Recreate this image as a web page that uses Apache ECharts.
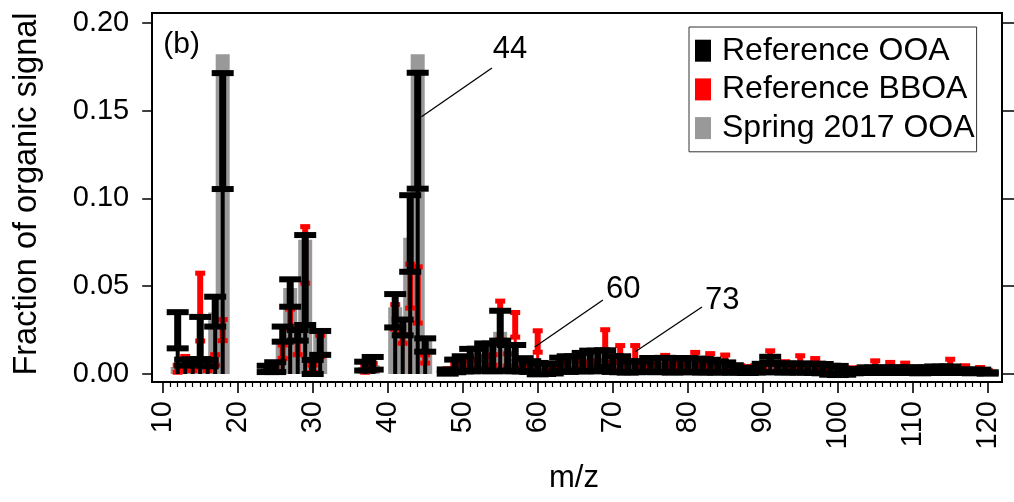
<!DOCTYPE html>
<html>
<head>
<meta charset="utf-8">
<script src="https://cdn.jsdelivr.net/npm/echarts@6/dist/echarts.min.js"></script>
<style>
  html, body { margin: 0; padding: 0; background: #fff; }
  #chart { width: 1014px; height: 502px; }
</style>
</head>
<body>
<div id="chart"></div>
<script>
// m/z channels shown in the spectrum
const mz = [
  12, 13, 14, 15, 16, 17, 18, 24, 25, 26,
  27, 28, 29, 30, 31, 37, 38, 41, 42, 43,
  44, 45, 48, 49, 50, 51, 52, 53, 54, 55,
  56, 57, 58, 59, 60, 61, 62, 63, 64, 65,
  66, 67, 68, 69, 70, 71, 72, 73, 74, 75,
  76, 77, 78, 79, 80, 81, 82, 83, 84, 85,
  86, 87, 88, 89, 90, 91, 92, 93, 94, 95,
  96, 97, 98, 99, 100, 101, 102, 103, 104, 105,
  106, 107, 108, 109, 110, 111, 112, 113, 114, 115,
  116, 117, 118, 119, 120
];

// Reference OOA: mean fraction and standard deviation
const ooaMean = [
  0.0249, 0.0065, 0.0068, 0.0205, 0.0062, 0.0355, 0.1383, 0.0029, 0.0039, 0.0227,
  0.0461, 0.0220, 0.0535, 0.0040, 0.0177, 0.0045, 0.0061, 0.0360, 0.0265, 0.0800,
  0.1385, 0.0165, 0.0014, 0.0046, 0.0058, 0.0079, 0.0082, 0.0097, 0.0094, 0.0275,
  0.00925, 0.0090, 0.00525, 0.00425, 0.00305, 0.0029, 0.00305, 0.0054, 0.00565, 0.0058,
  0.00675, 0.00755, 0.0074, 0.00875, 0.00565, 0.00555, 0.0040, 0.0041, 0.0042, 0.00515,
  0.0050, 0.0052, 0.00485, 0.00505, 0.0051, 0.0049, 0.00465, 0.00455, 0.0040, 0.0038,
  0.0029, 0.0021, 0.0020, 0.0022, 0.0034, 0.0081, 0.00345, 0.00335, 0.0035, 0.00335,
  0.0033, 0.00325, 0.00305, 0.00215, 0.0020, 0.0011, 0.00145, 0.00165, 0.0023, 0.00215,
  0.0023, 0.0021, 0.0023, 0.00215, 0.0023, 0.0020, 0.0022, 0.00255, 0.0024, 0.00255,
  0.00155, 0.0016, 0.0014, 0.00155, 0.0006
];
const ooaSd = [
  0.0103, 0.0017, 0.0015, 0.0120, 0.0018, 0.0085, 0.0330, 0.0018, 0.0028, 0.0043,
  0.0078, 0.0030, 0.0256, 0.0040, 0.0068, 0.0025, 0.0036, 0.0095, 0.0045, 0.0218,
  0.0330, 0.0038, 0.0012, 0.0036, 0.0043, 0.0064, 0.0062, 0.0077, 0.0079, 0.0085,
  0.00725, 0.0075, 0.00375, 0.00305, 0.00325, 0.0029, 0.00275, 0.0039, 0.00445, 0.0043,
  0.00525, 0.00575, 0.0059, 0.00475, 0.00445, 0.00455, 0.0032, 0.0031, 0.0030, 0.00395,
  0.0040, 0.0040, 0.00405, 0.00405, 0.0039, 0.0039, 0.00385, 0.00355, 0.0032, 0.0028,
  0.0021, 0.0013, 0.0014, 0.0014, 0.0024, 0.0017, 0.00245, 0.00255, 0.0025, 0.00255,
  0.0025, 0.00265, 0.00265, 0.00255, 0.0026, 0.0015, 0.00105, 0.00105, 0.0015, 0.00155,
  0.0015, 0.0015, 0.0015, 0.00155, 0.0015, 0.0016, 0.0016, 0.00175, 0.0018, 0.00175,
  0.00095, 0.0010, 0.0010, 0.00095, 0.0004
];

// Reference BBOA: mean fraction and standard deviation
const bboaMean = [
  0.0030, 0.0060, 0.0040, 0.0381, 0.0050, 0.0080, 0.0250, 0.0020, 0.0025, 0.0127,
  0.0315, 0.0150, 0.0678, 0.0030, 0.0160, 0.0030, 0.0040, 0.0325, 0.0200, 0.0500,
  0.0450, 0.0085, 0.0020, 0.0040, 0.0050, 0.0060, 0.0055, 0.0070, 0.0080, 0.0305,
  0.0080, 0.0280, 0.0060, 0.0040, 0.0185, 0.0035, 0.0035, 0.0045, 0.0050, 0.0055,
  0.0050, 0.0095, 0.0055, 0.0195, 0.0045, 0.0115, 0.0040, 0.0115, 0.0040, 0.0040,
  0.0040, 0.0075, 0.0040, 0.0045, 0.0040, 0.0088, 0.0040, 0.0083, 0.0040, 0.0077,
  0.0030, 0.0034, 0.0030, 0.0034, 0.0030, 0.0095, 0.0030, 0.0051, 0.0030, 0.0075,
  0.0030, 0.0064, 0.0025, 0.0025, 0.0025, 0.0025, 0.0025, 0.0027, 0.0025, 0.0055,
  0.0025, 0.0048, 0.0025, 0.0045, 0.0025, 0.0025, 0.0022, 0.0022, 0.0022, 0.0061,
  0.0020, 0.0034, 0.0018, 0.0027, 0.0015
];
const bboaSd = [
  0.0020, 0.0040, 0.0020, 0.0193, 0.0030, 0.0030, 0.0060, 0.0010, 0.0012, 0.0038,
  0.0055, 0.0040, 0.0161, 0.0020, 0.0060, 0.0020, 0.0020, 0.0070, 0.0025, 0.0125,
  0.0160, 0.0023, 0.0010, 0.0015, 0.0020, 0.0025, 0.0020, 0.0030, 0.0030, 0.0110,
  0.0035, 0.0070, 0.0025, 0.0015, 0.0061, 0.0015, 0.0015, 0.0020, 0.0020, 0.0025,
  0.0020, 0.0035, 0.0020, 0.0057, 0.0020, 0.0047, 0.0015, 0.0047, 0.0015, 0.0015,
  0.0015, 0.0031, 0.0015, 0.0015, 0.0015, 0.0035, 0.0015, 0.0033, 0.0015, 0.0031,
  0.0012, 0.0013, 0.0012, 0.0013, 0.0012, 0.0037, 0.0012, 0.0019, 0.0012, 0.0029,
  0.0012, 0.0024, 0.0010, 0.0010, 0.0010, 0.0010, 0.0010, 0.0009, 0.0010, 0.0020,
  0.0010, 0.0018, 0.0010, 0.0017, 0.0010, 0.0010, 0.0009, 0.0009, 0.0009, 0.0023,
  0.0008, 0.0013, 0.0007, 0.0010, 0.0006
];

// Spring 2017 OOA factor profile
const spring2017 = [
  0.0040, 0.0035, 0.0050, 0.0090, 0.0060, 0.0350, 0.1820, 0.0030, 0.0040, 0.0200,
  0.0490, 0.0200, 0.0765, 0.0050, 0.0250, 0.0040, 0.0050, 0.0380, 0.0280, 0.0775,
  0.1820, 0.0200, 0.0015, 0.0040, 0.0055, 0.0070, 0.0075, 0.0090, 0.0090, 0.0240,
  0.0085, 0.0080, 0.0050, 0.0040, 0.0030, 0.0030, 0.0030, 0.0050, 0.0055, 0.0055,
  0.0065, 0.0070, 0.0070, 0.0080, 0.0055, 0.0055, 0.0040, 0.0040, 0.0040, 0.0050,
  0.0050, 0.0050, 0.0045, 0.0050, 0.0050, 0.0048, 0.0045, 0.0045, 0.0040, 0.0038,
  0.0028, 0.0020, 0.0020, 0.0022, 0.0034, 0.0075, 0.0034, 0.0033, 0.0035, 0.0033,
  0.0033, 0.0032, 0.0030, 0.0021, 0.0020, 0.0011, 0.0014, 0.0016, 0.0023, 0.0021,
  0.0023, 0.0021, 0.0023, 0.0021, 0.0023, 0.0020, 0.0022, 0.0025, 0.0024, 0.0025,
  0.0015, 0.0016, 0.0014, 0.0015, 0.0006
];

// Axis ticks
const yTicks = [0, 0.05, 0.10, 0.15, 0.20];
const xTickStep = 10;

// Callouts: label text, point on the mark, line end, label anchor (data units)
const calloutText = ['44', '60', '73'];
const calloutTip = [[44.5, 0.1465], [59.6, 0.0154], [73.0, 0.0127]];
const calloutEnd = [[53.9, 0.1742], [68.7, 0.0421], [81.9, 0.0381]];
const calloutLabel = [[56.3, 0.1845], [71.4, 0.0484], [84.6, 0.0421]];

const FONT = '"Liberation Sans", Arial, Helvetica, sans-serif';

// bar from zero to the mean, plus a capped error bar of +/- one sd
function errorBarItem(capW, capH, lineW, barW, color) {
  return function (params, api) {
    const x = api.value(0), m = api.value(1), s = api.value(2);
    const base = api.coord([x, 0]);
    const mid = api.coord([x, m]);
    const hi = api.coord([x, m + s]);
    const lo = api.coord([x, m - s]);
    const cx = base[0];
    const style = { fill: color };
    return {
      type: 'group',
      children: [
        { type: 'rect', shape: { x: cx - barW / 2, y: Math.min(mid[1], base[1]), width: barW, height: Math.abs(base[1] - mid[1]) }, style },
        { type: 'rect', shape: { x: cx - lineW / 2, y: hi[1], width: lineW, height: lo[1] - hi[1] }, style },
        { type: 'rect', shape: { x: cx - capW / 2, y: hi[1] - capH / 2, width: capW, height: capH }, style },
        { type: 'rect', shape: { x: cx - capW / 2, y: lo[1] - capH / 2, width: capW, height: capH }, style }
      ]
    };
  };
}

function calloutItem(params, api) {
  const i = params.dataIndex;
  const a = api.coord(calloutTip[i]);
  const b = api.coord(calloutEnd[i]);
  const t = api.coord(calloutLabel[i]);
  return {
    type: 'group',
    children: [
      { type: 'line', shape: { x1: a[0], y1: a[1], x2: b[0], y2: b[1] }, style: { stroke: '#000', lineWidth: 1.3 } },
      { type: 'text', x: t[0], y: t[1], style: { text: calloutText[i], font: '31px ' + FONT, fill: '#000', align: 'center', verticalAlign: 'middle' } }
    ]
  };
}

const ooaData = mz.map((m, i) => [m, ooaMean[i], ooaSd[i]]);
const bboaData = mz.map((m, i) => [m, bboaMean[i], bboaSd[i]]);
const springData = mz.map((m, i) => [m, spring2017[i]]);

const chart = echarts.init(document.getElementById('chart'), null, { renderer: 'canvas' });

chart.setOption({
  animation: false,
  backgroundColor: '#fff',
  grid: { left: 162.7, right: 26.3, top: 22.7, bottom: 128, containLabel: false },
  xAxis: {
    type: 'value', min: 10, max: 120, interval: xTickStep, offset: 8,
    axisLine: { show: true, onZero: false, lineStyle: { color: '#000', width: 1.5 } },
    axisTick: { show: true, length: 11, lineStyle: { color: '#000', width: 1.6 } },
    minorTick: { show: true, splitNumber: 10, length: 5, lineStyle: { color: '#000', width: 1.2 } },
    axisLabel: { rotate: 90, margin: 19, fontSize: 29, color: '#000', fontFamily: FONT },
    splitLine: { show: false }
  },
  yAxis: [
    {
      type: 'value', position: 'left', min: yTicks[0], max: yTicks[yTicks.length - 1],
      interval: yTicks[1] - yTicks[0], offset: 10.5,
      axisLine: { show: true, lineStyle: { color: '#000', width: 1.5 } },
      axisTick: { show: true, length: 10, lineStyle: { color: '#000', width: 1.5 } },
      axisLabel: { margin: 23, fontSize: 29, color: '#000', fontFamily: FONT, formatter: v => v.toFixed(2) },
      splitLine: { show: false }
    },
    {
      type: 'value', position: 'right', min: yTicks[0], max: yTicks[yTicks.length - 1],
      interval: yTicks[1] - yTicks[0], offset: 14.3,
      axisLine: { show: true, lineStyle: { color: '#000', width: 1.5 } },
      axisTick: { show: true, length: 12, lineStyle: { color: '#000', width: 1.5 } },
      axisLabel: { show: false },
      splitLine: { show: false }
    }
  ],
  legend: {
    data: ['Reference OOA', 'Reference BBOA', 'Spring 2017 OOA'],
    orient: 'vertical', left: 689, top: 27,
    icon: 'rect', itemWidth: 16, itemHeight: 22, itemGap: 6.7,
    padding: [7.7, 2, 7.7, 6],
    borderColor: '#333', borderWidth: 1,
    selectedMode: false,
    textStyle: { fontSize: 32, lineHeight: 30, color: '#000', fontFamily: FONT, padding: [0, 0, 0, 6] }
  },
  graphic: [
    { type: 'rect', shape: { x: 152, y: 13, width: 850, height: 369 }, style: { fill: 'none', stroke: '#000', lineWidth: 2 }, z: 100 },
    { type: 'text', x: 181.7, y: 45, style: { text: '(b)', font: '30px ' + FONT, fill: '#000', align: 'center', verticalAlign: 'middle' } },
    { type: 'text', x: 574, y: 478, style: { text: 'm/z', font: '31px ' + FONT, fill: '#000', align: 'center', verticalAlign: 'middle' } },
    { type: 'text', x: 27.5, y: 194, rotation: Math.PI / 2, style: { text: 'Fraction of organic signal', font: '32.5px ' + FONT, fill: '#000', align: 'center', verticalAlign: 'middle' } }
  ],
  series: [
    {
      name: 'Spring 2017 OOA', type: 'bar', data: springData, barWidth: 14,
      itemStyle: { color: '#999999' }, z: 1
    },
    {
      name: 'Reference BBOA', type: 'custom', data: bboaData, clip: false,
      encode: { x: 0, y: 1 }, renderItem: errorBarItem(10, 5, 6, 3, '#ff0000'),
      itemStyle: { color: '#ff0000' }, z: 2
    },
    {
      name: 'Reference OOA', type: 'custom', data: ooaData, clip: false,
      encode: { x: 0, y: 1 }, renderItem: errorBarItem(22, 6, 7, 4, '#000000'),
      itemStyle: { color: '#000000' }, z: 3
    },
    {
      name: 'callouts', type: 'custom', data: calloutText.map((t, i) => [calloutTip[i][0], calloutTip[i][1]]),
      clip: false, renderItem: calloutItem, silent: true, z: 4
    }
  ]
});
</script>
</body>
</html>
